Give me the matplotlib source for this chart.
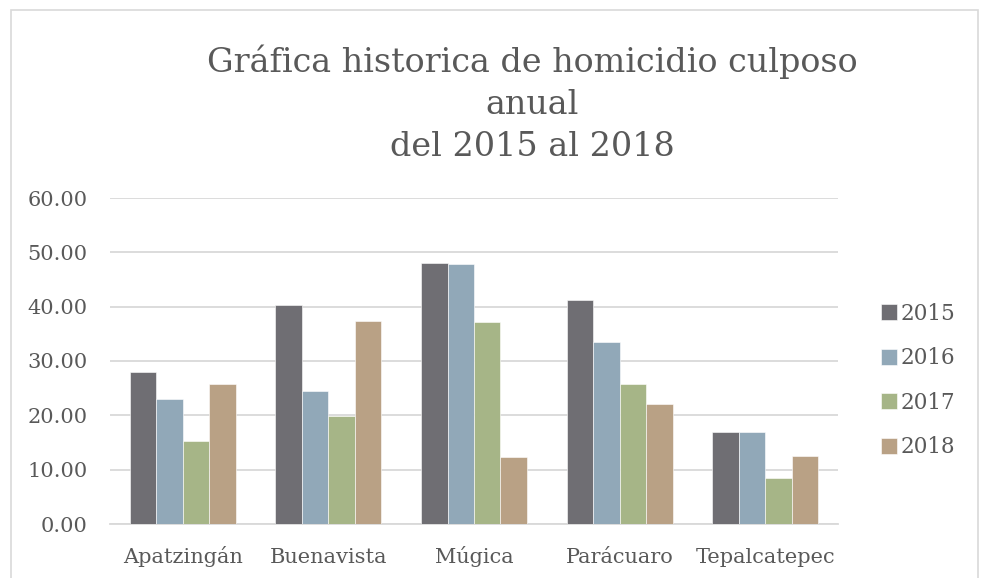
import matplotlib.pyplot as plt
import matplotlib.patches as mpatches
import numpy as np

categories = ['Apatzingán', 'Buenavista', 'Múgica', 'Parácuaro', 'Tepalcatepec']
years = ['2015', '2016', '2017', '2018']
v2015 = [27.9, 40.3, 48.1, 41.2, 17.0]
v2016 = [23.0, 24.4, 47.8, 33.5, 16.95]
v2017 = [15.2, 19.95, 37.1, 25.8, 8.4]
v2018 = [25.8, 37.4, 12.3, 22.0, 12.6]
colors = ['#6f6e73', '#91a8b8', '#a6b587', '#b9a185']

plt.rcParams['font.family'] = ['DejaVu Serif']
text_color = '#595959'

fig = plt.figure(figsize=(9.85, 5.78), dpi=100)
ax = fig.add_axes([110/985, 1-524/578, (838-110)/985, (524-198)/578])

x = np.arange(len(categories))
bw = 1/5.5
series = [v2015, v2016, v2017, v2018]
for i, vals in enumerate(series):
    ax.bar(x + (i-1.5)*bw, vals, width=bw, color=colors[i], label=years[i],
           edgecolor='white', linewidth=0.4, zorder=3)

ax.set_xlim(-0.5, 4.5)
ax.set_ylim(0, 60)
ax.set_yticks(range(0, 61, 10))
ax.set_yticklabels(['%.2f' % t for t in range(0, 61, 10)])
ax.set_xticks(x)
ax.set_xticklabels(categories, va='baseline')
ax.tick_params(length=0, labelsize=15, colors=text_color)
ax.tick_params(axis='y', pad=16)
ax.tick_params(axis='x', pad=28)
ax.yaxis.grid(True, color='#d9d9d9', linewidth=1.3, zorder=0)
for s in ['top', 'right', 'left']:
    ax.spines[s].set_visible(False)
ax.spines['bottom'].set_color('#d9d9d9')
ax.spines['bottom'].set_linewidth(1.3)

fig.text(0.5405, 1-104/578, 'Gráfica historica de homicidio culposo\nanual\ndel 2015 al 2018',
         ha='center', va='center', fontsize=24, color=text_color, linespacing=1.4)

leg = ax.legend(loc='upper left', bbox_to_anchor=(872/985, 1-294/578),
                bbox_transform=fig.transFigure, frameon=False, fontsize=15.5,
                handlelength=0.75, handleheight=0.75, handletextpad=0.2,
                labelspacing=1.05, borderaxespad=0)
for t in leg.get_texts():
    t.set_color(text_color)

border = mpatches.Rectangle((11/985, -0.05), (978-11)/985, 1.05 - 10/578,
                            transform=fig.transFigure, fill=False,
                            edgecolor='#d9d9d9', linewidth=1.2)
fig.patches.append(border)

fig.savefig('out.png', dpi=100)
